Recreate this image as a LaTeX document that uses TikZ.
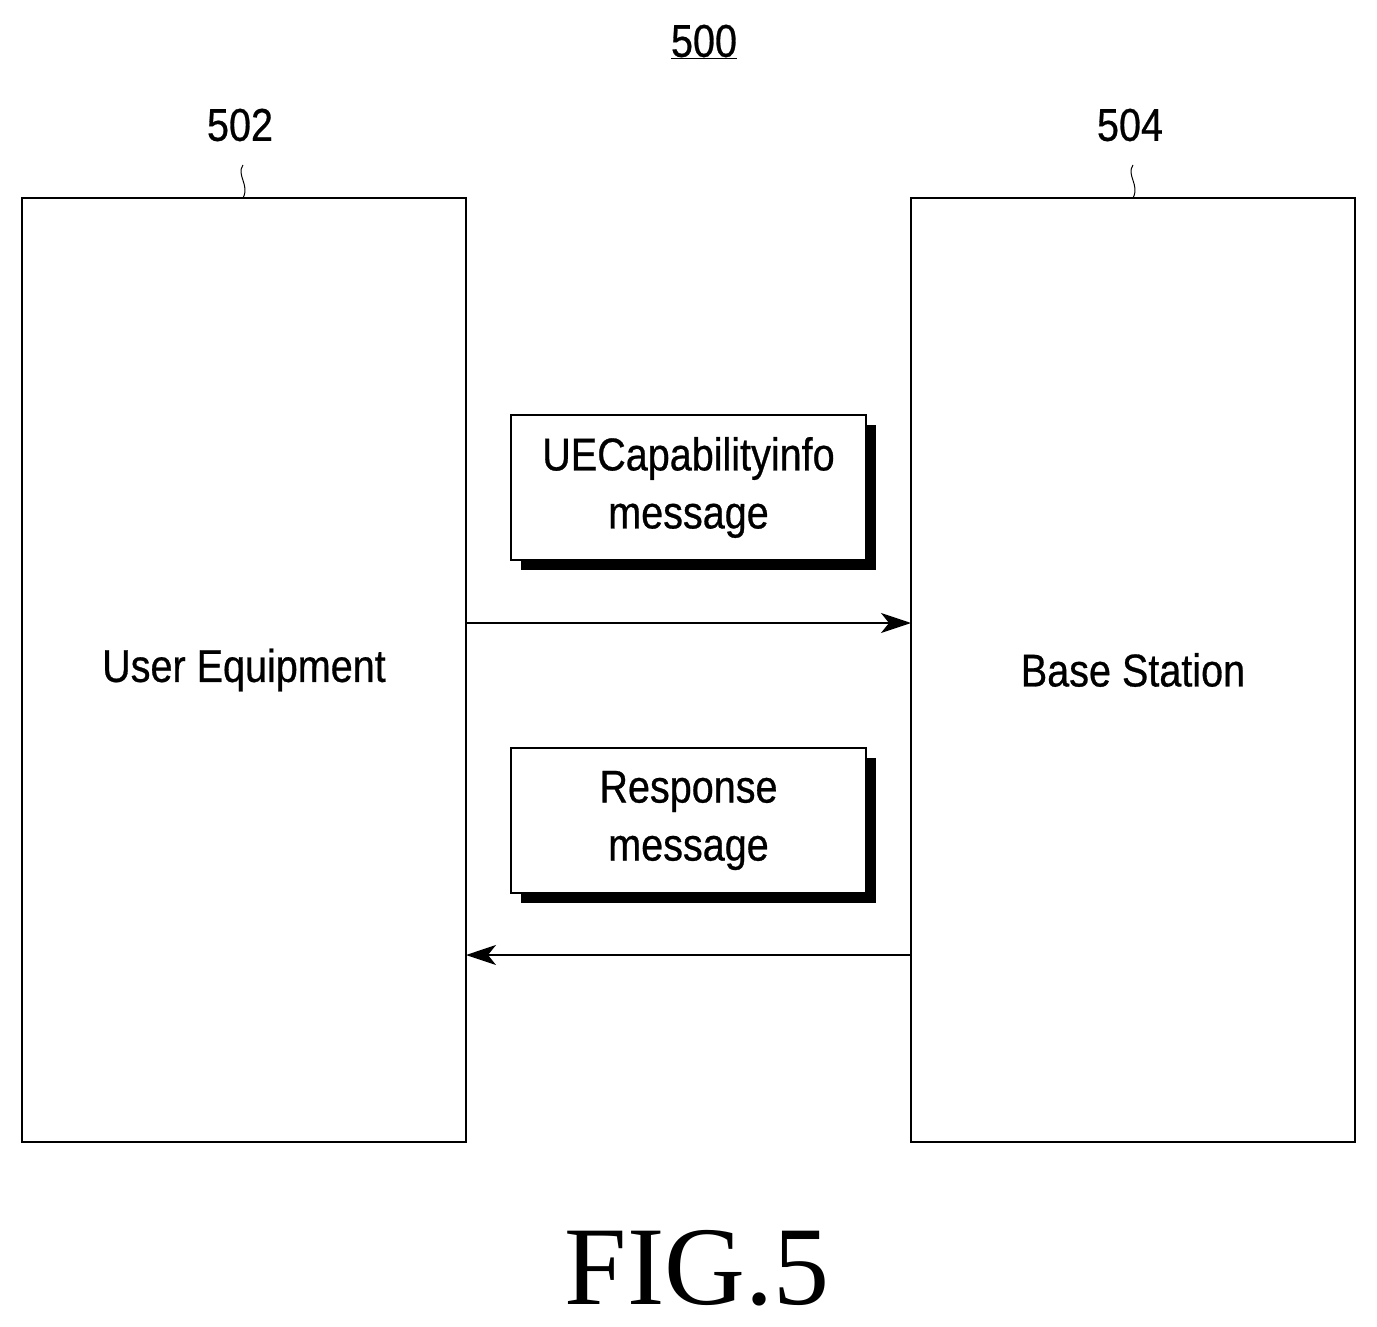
\documentclass[tikz,border=0pt]{standalone}
\usepackage{fontspec}
\setmainfont{Liberation Sans}[FakeStretch=0.86,FakeBold=0.6]
\newfontfamily\figfont{Liberation Serif}
\usetikzlibrary{arrows.meta}
\begin{document}
\begin{tikzpicture}[x=1pt,y=-1pt,
  box/.style={draw,line width=1.2pt,minimum width=444pt,minimum height=944pt,inner sep=0pt,font=\fontsize{46}{52}\selectfont},
  msg/.style={draw,fill=white,line width=1.2pt,minimum width=355pt,minimum height=145pt,inner sep=0pt,align=center,font=\fontsize{46}{58}\selectfont},
  shadow/.style={fill=black,minimum width=355pt,minimum height=145pt,inner sep=0pt},
  lbl/.style={font=\fontsize{46}{52}\selectfont},
  arr/.style={line width=1.4pt,-{Stealth[length=30pt,width=20pt,inset=8pt]}}]
\useasboundingbox (0,0) rectangle (1377,1327);
\node[box] (ue) at (244,670) {User Equipment};
\node[box] (bs) at (1133,670) {Base Station};
\node[lbl] (n500) at (704,42) {\underline{500}};
\node[lbl] (n502) at (240,125) {502};
\node[lbl] (n504) at (1130,125) {504};
\draw[line width=1pt] (243,165) .. controls (236,175) and (250,185) .. (243,198);
\draw[line width=1pt] (1133,165) .. controls (1126,175) and (1140,185) .. (1133,198);
\node[shadow] at (698.5,497.5) {};
\node[msg] (m1) at (688.5,487.5) {UECapabilityinfo\\message};
\node[shadow] at (698.5,830.5) {};
\node[msg] (m2) at (688.5,820.5) {Response\\message};
\coordinate (a1) at (466,623);
\coordinate (b1) at (911,623);
\coordinate (a2) at (911,955);
\coordinate (b2) at (466,955);
\draw[arr] (a1) -- (b1);
\draw[arr] (a2) -- (b2);
\node[font=\figfont\fontsize{112}{112}\selectfont] (fig) at (697,1268) {FIG.5};
\end{tikzpicture}
\end{document}
